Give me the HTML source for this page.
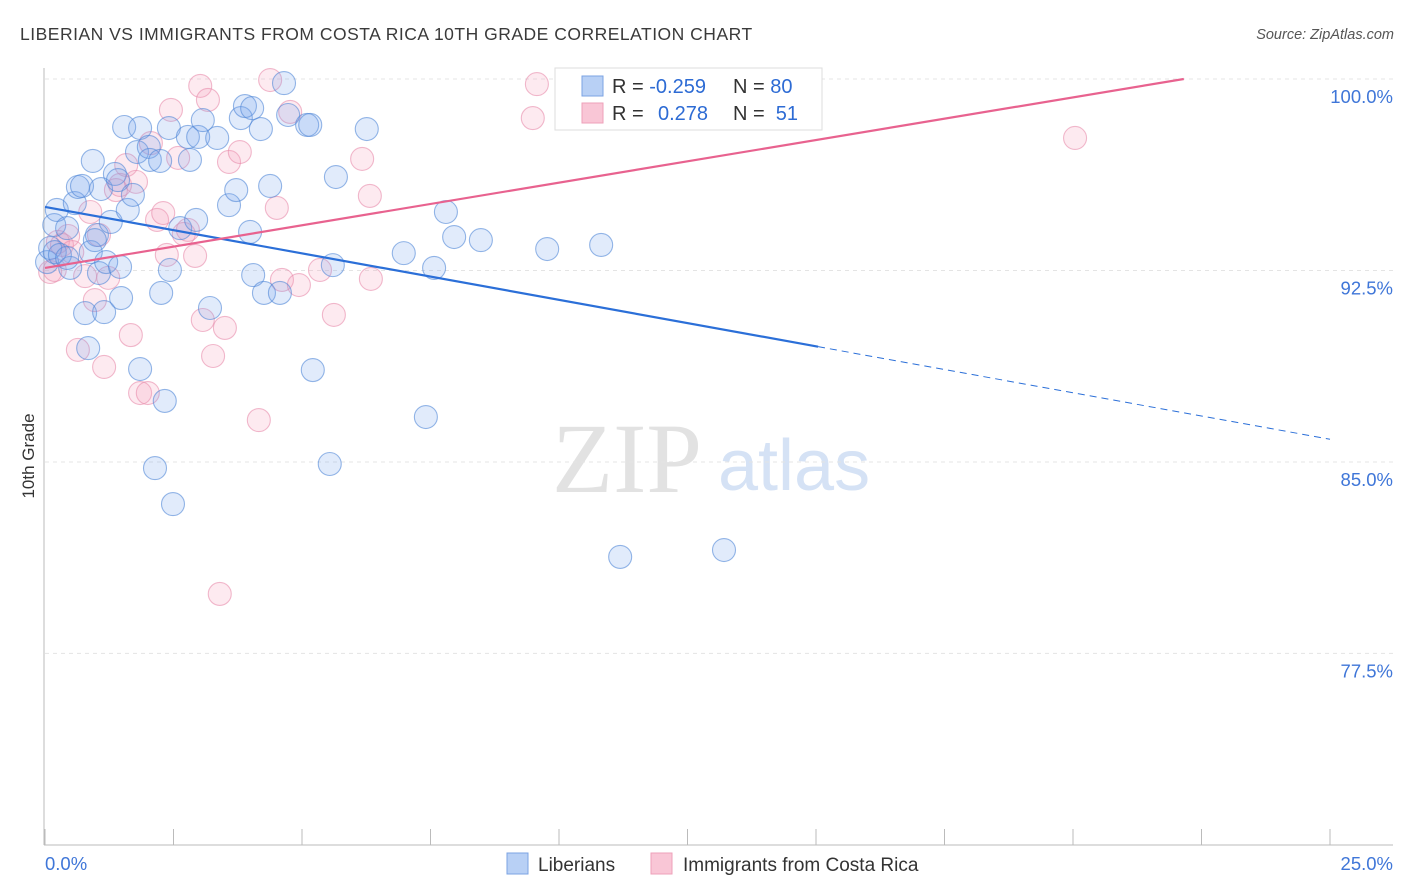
<!DOCTYPE html>
<html><head><meta charset="utf-8"><style>
body{margin:0;background:#fff;font-family:"Liberation Sans",sans-serif}
svg{display:block}
</style></head><body>
<svg id="chart" width="1406" height="892" xmlns="http://www.w3.org/2000/svg">
<text x="20" y="40" font-size="17.5" fill="#3a3a3a" letter-spacing="0.5">LIBERIAN VS IMMIGRANTS FROM COSTA RICA 10TH GRADE CORRELATION CHART</text>
<text x="1394" y="39" font-size="14.5" fill="#555" font-style="italic" text-anchor="end">Source: ZipAtlas.com</text>
<g>
<text x="552" y="492" font-family="Liberation Serif,serif" font-size="100" fill="#e2e2e2">ZIP</text>
<text x="718" y="490" font-size="72" fill="#d5e2f5">atlas</text>
</g>
<g id="grid"></g>
<g id="axes"></g>
<g id="pts"></g>
<g id="trends"></g>
<text transform="translate(34,456) rotate(-90)" font-size="17" fill="#333" text-anchor="middle">10th Grade</text>
<g>
<rect x="555" y="68" width="267" height="62" fill="#fff" stroke="#ddd"/>
<rect x="582" y="76" width="21" height="20" fill="#b8d0f5" stroke="#7ba3e3"/>
<rect x="582" y="103" width="21" height="20" fill="#f9c6d6" stroke="#eea0b9"/>
<text x="612" y="93" font-size="20" fill="#333">R = <tspan fill="#2d6bd4">-0.259</tspan></text>
<text x="733" y="93" font-size="20" fill="#333">N = <tspan fill="#2d6bd4">80</tspan></text>
<text x="612" y="120" font-size="20" fill="#333">R = </text><text x="658" y="120" font-size="20" fill="#2d6bd4">0.278</text>
<text x="733" y="120" font-size="20" fill="#333">N = <tspan fill="#2d6bd4">&#160;51</tspan></text>
</g>
<g>
<rect x="507" y="853" width="21" height="21" fill="#b8d0f5" stroke="#7ba3e3"/>
<text x="538" y="871" font-size="19" fill="#333">Liberians</text>
<rect x="651" y="853" width="21" height="21" fill="#f9c6d6" stroke="#eea0b9"/>
<text x="683" y="871" font-size="19" fill="#333">Immigrants from Costa Rica</text>
</g>
</svg>
<script>
const blueX=[0.04,0.10,0.18,0.23,0.19,0.29,0.43,0.49,0.58,0.64,0.72,0.78,0.84,0.89,0.93,1.01,1.05,1.09,1.15,1.19,1.28,1.36,1.42,1.46,1.48,1.54,1.61,1.71,1.79,1.85,1.85,2.02,2.04,2.14,2.24,2.26,2.33,2.41,2.43,2.49,2.63,2.78,2.82,2.94,2.98,3.07,3.21,3.35,3.58,3.72,3.81,3.89,3.99,4.03,4.05,4.20,4.26,4.38,4.57,4.65,4.73,5.10,5.16,5.21,5.54,5.60,5.66,6.26,6.98,7.41,7.57,7.80,7.96,8.48,9.77,10.82,11.19,13.21,0.43,0.97];
const blueY=[92.83,93.38,94.28,94.87,93.22,93.11,94.16,92.60,95.14,95.77,95.81,90.83,89.46,93.22,96.79,93.89,92.40,95.69,90.87,92.83,94.40,96.28,96.04,92.64,91.42,98.12,94.87,95.46,97.14,98.08,88.64,97.34,96.83,84.76,96.79,91.62,87.39,98.08,92.52,83.35,94.16,97.73,96.83,94.48,97.73,98.39,91.03,97.69,95.06,95.65,98.47,98.94,94.01,98.86,92.32,98.04,91.62,95.81,91.62,99.84,98.59,98.20,98.20,88.60,84.92,92.71,96.16,98.04,93.18,86.76,92.60,94.79,93.81,93.69,93.34,93.50,81.28,81.55,92.99,93.69];
const pinkX=[0.10,0.19,0.25,0.33,0.45,0.53,0.64,0.78,0.88,0.97,1.05,1.15,1.23,1.38,1.46,1.58,1.67,1.77,1.85,2.00,2.06,2.18,2.30,2.37,2.45,2.59,2.70,2.78,2.92,3.02,3.07,3.17,3.27,3.40,3.50,3.58,3.79,4.16,4.38,4.51,4.61,4.77,4.94,5.35,5.62,6.17,6.32,6.34,9.49,9.57,20.04];
const pinkY=[92.44,92.52,93.62,93.50,93.85,93.22,89.39,92.28,94.79,91.34,93.89,88.72,92.21,95.65,95.85,96.63,89.97,95.97,87.70,87.70,97.49,94.48,94.75,93.11,98.79,96.91,93.93,94.09,93.07,99.73,90.56,99.18,89.15,79.83,90.25,96.75,97.14,86.64,99.96,94.95,92.13,98.71,91.93,92.52,90.76,96.87,95.42,92.17,98.47,99.80,97.69];
const blueTrend=[94.99,-0.364];
const pinkTrend=[92.6,0.334];
const yTicks=[100,92.5,85,77.5];
const yTickLabels=["100.0%","92.5%","85.0%","77.5%"];
const xTicks=[0,2.5,5,7.5,10,12.5,15,17.5,20,22.5,25];

const NS="http://www.w3.org/2000/svg";
const X=v=>45+v*51.4;
const Y=v=>79+(100-v)*25.53;
function mk(tag,attrs,parent){const e=document.createElementNS(NS,tag);for(const k in attrs)e.setAttribute(k,attrs[k]);document.getElementById(parent).appendChild(e);return e;}
yTicks.forEach((t,i)=>{
  const l=mk('line',{x1:45,x2:1393,y1:Y(t),y2:Y(t),stroke:'#e4e4e4','stroke-dasharray':'4,4'},'grid');
  
  
  const tx=mk('text',{x:1393,y:Y(t)+24,'font-size':18.5,fill:'#3f76d8','text-anchor':'end'},'grid');
  tx.textContent=yTickLabels[i];
  
  
});
const ya=mk('line',{x1:44,x2:44,y1:68,y2:845,stroke:'#bbb'},'axes');


const xa=mk('line',{x1:44,x2:1393,y1:845,y2:845,stroke:'#bbb'},'axes');


xTicks.forEach(t=>{
  const l=mk('line',{x1:X(t),x2:X(t),y1:829,y2:845,stroke:'#bbb'},'axes');
  
  
});
const x0=mk('text',{x:45,y:870,'font-size':18.5,fill:'#3f76d8'},'axes');x0.textContent=xTicks[0].toFixed(1)+'%';


const x1=mk('text',{x:1393,y:870,'font-size':18.5,fill:'#3f76d8','text-anchor':'end'},'axes');x1.textContent=xTicks[xTicks.length-1].toFixed(1)+'%';



pinkX.forEach((v,i)=>{
  const c=mk('circle',{cx:X(v),cy:Y(pinkY[i]),r:11.5,fill:'rgba(244,160,188,0.22)',stroke:'rgba(232,140,172,0.6)','stroke-width':1.1},'pts');
  
  
});
blueX.forEach((v,i)=>{
  const c=mk('circle',{cx:X(v),cy:Y(blueY[i]),r:11.5,fill:'rgba(120,165,235,0.22)',stroke:'rgba(80,135,215,0.6)','stroke-width':1.1},'pts');
  
  
});
const bf=x=>blueTrend[0]+blueTrend[1]*x;
const b1=mk('line',{x1:X(0),y1:Y(bf(0)),x2:X(15.04),y2:Y(bf(15.04)),stroke:'#2b6fd8','stroke-width':2.2},'trends');


const b2=mk('line',{x1:X(15.04),y1:Y(bf(15.04)),x2:X(25),y2:Y(bf(25)),stroke:'#2b6fd8','stroke-width':1,'stroke-dasharray':'7,5'},'trends');


const pf=x=>pinkTrend[0]+pinkTrend[1]*x;
const pEnd=Math.min(25,(100-pinkTrend[0])/pinkTrend[1]);
const p1=mk('line',{x1:X(0),y1:Y(pf(0)),x2:X(pEnd),y2:Y(pf(pEnd)),stroke:'#e8628f','stroke-width':2.2},'trends');


</script>
</body></html>
